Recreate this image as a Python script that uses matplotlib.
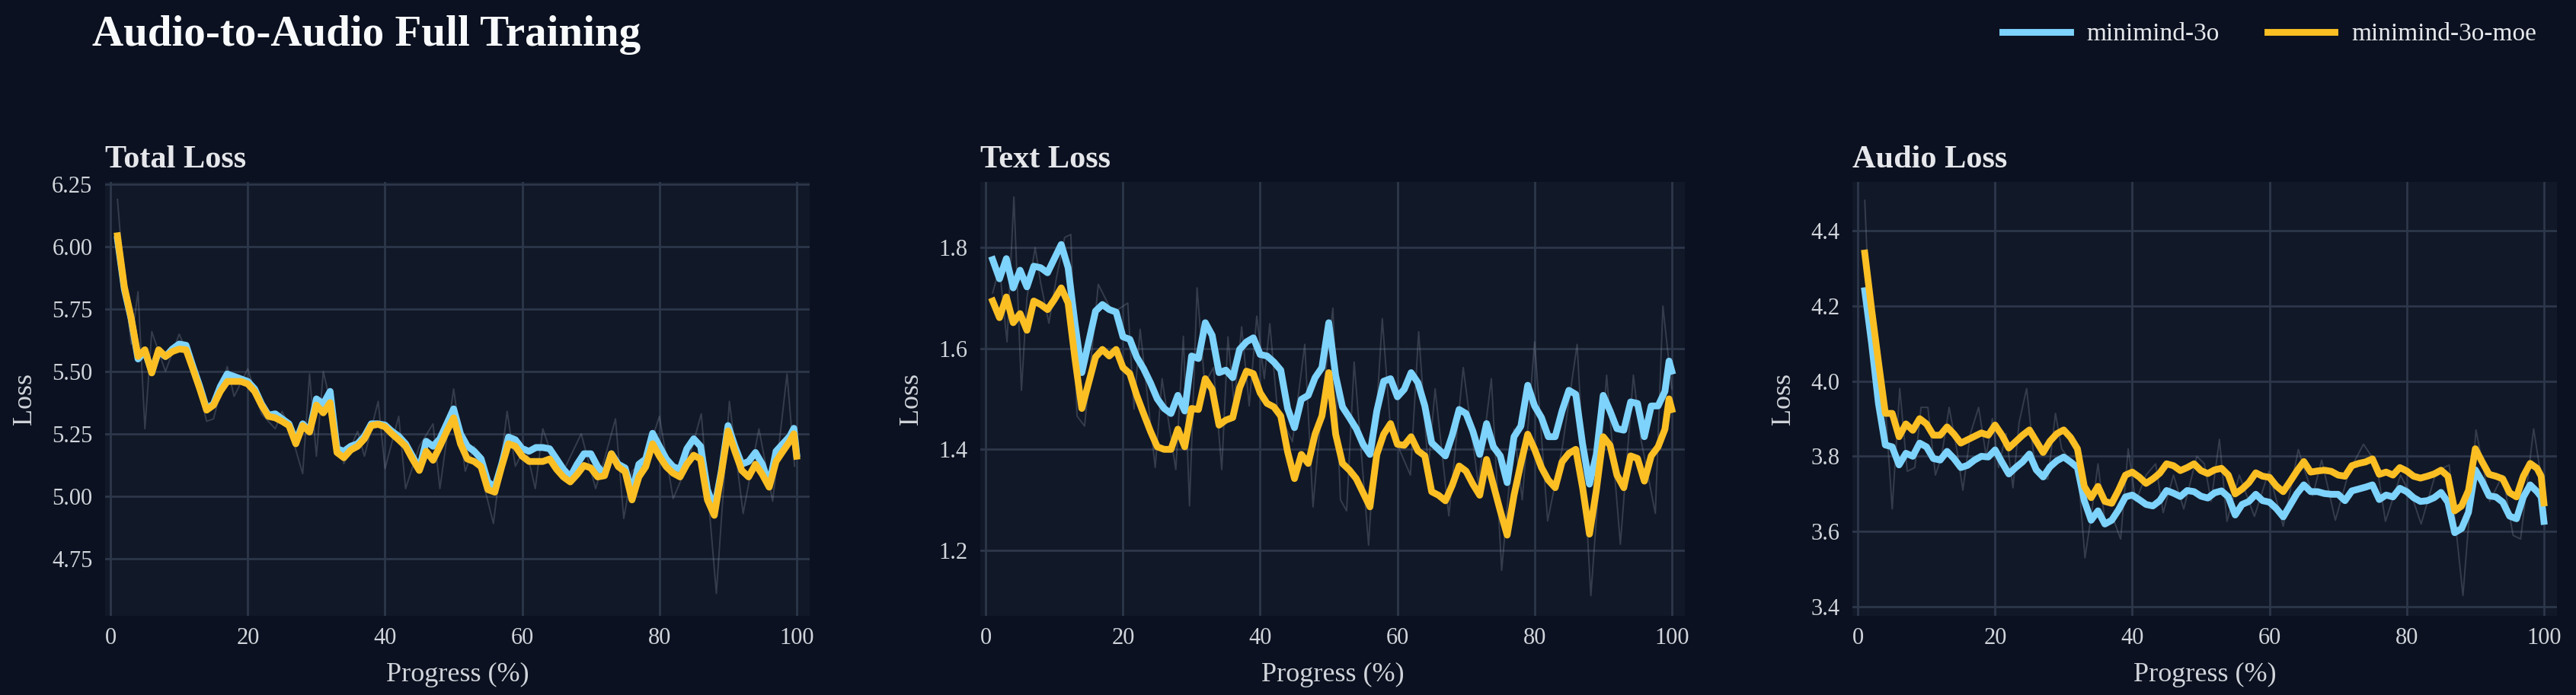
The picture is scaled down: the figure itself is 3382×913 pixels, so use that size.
import matplotlib
matplotlib.use("Agg")
import matplotlib.pyplot as plt
from matplotlib.lines import Line2D

# ---------------- data ----------------
steps = list(range(1, 100)) + [99.6, 100]

total_3o = [
    6.03, 5.83, 5.71, 5.55, 5.58, 5.50, 5.58, 5.56, 5.59, 5.61,
    5.605, 5.52, 5.44, 5.35, 5.37, 5.44, 5.49, 5.48, 5.47, 5.46,
    5.43, 5.37, 5.325, 5.33, 5.31, 5.29, 5.22, 5.29, 5.26, 5.39,
    5.37, 5.42, 5.19, 5.18, 5.20, 5.21, 5.24, 5.29, 5.29, 5.285,
    5.26, 5.24, 5.21, 5.16, 5.11, 5.22, 5.20, 5.23, 5.29, 5.35,
    5.25, 5.20, 5.18, 5.15, 5.057, 5.036, 5.128, 5.237, 5.226, 5.19,
    5.18, 5.195, 5.195, 5.19, 5.149, 5.108, 5.077, 5.128, 5.17, 5.17,
    5.118, 5.087, 5.17, 5.128, 5.113, 5.016, 5.128, 5.149, 5.252, 5.20,
    5.149, 5.118, 5.108, 5.19, 5.23, 5.20, 5.026, 4.95, 5.097, 5.283,
    5.20, 5.128, 5.139, 5.175, 5.128, 5.046, 5.18, 5.21, 5.24,
    5.272, 5.17]
total_moe = [
    6.044, 5.84, 5.715, 5.56, 5.587, 5.494, 5.587, 5.56, 5.58, 5.59,
    5.587, 5.51, 5.43, 5.345, 5.365, 5.42, 5.46, 5.46, 5.46, 5.45,
    5.42, 5.365, 5.32, 5.314, 5.30, 5.283, 5.21, 5.283, 5.257, 5.365,
    5.334, 5.375, 5.175, 5.154, 5.185, 5.20, 5.23, 5.283, 5.288, 5.278,
    5.25, 5.226, 5.20, 5.149, 5.103, 5.18, 5.144, 5.20, 5.26, 5.314,
    5.21, 5.149, 5.139, 5.118, 5.026, 5.016, 5.118, 5.21, 5.20, 5.16,
    5.139, 5.139, 5.139, 5.149, 5.108, 5.077, 5.057, 5.087, 5.123, 5.113,
    5.077, 5.082, 5.17, 5.118, 5.098, 4.985, 5.077, 5.118, 5.21, 5.16,
    5.118, 5.092, 5.077, 5.128, 5.164, 5.149, 4.985, 4.923, 5.087, 5.262,
    5.18, 5.103, 5.077, 5.128, 5.087, 5.036, 5.139, 5.18, 5.22,
    5.25, 5.16]

text_3o = [
    1.776, 1.738, 1.778, 1.72, 1.755, 1.722, 1.763, 1.76, 1.75, 1.778,
    1.806, 1.76, 1.65, 1.552, 1.613, 1.674, 1.687, 1.677, 1.672, 1.623,
    1.618, 1.583, 1.56, 1.532, 1.50, 1.481, 1.471, 1.507, 1.476, 1.585,
    1.58, 1.651, 1.626, 1.552, 1.557, 1.542, 1.598, 1.613, 1.621, 1.588,
    1.585, 1.573, 1.557, 1.481, 1.443, 1.499, 1.507, 1.542, 1.562, 1.651,
    1.546, 1.484, 1.463, 1.441, 1.41, 1.39, 1.476, 1.535, 1.54, 1.504,
    1.519, 1.552, 1.532, 1.486, 1.413, 1.40, 1.387, 1.428, 1.479, 1.471,
    1.436, 1.39, 1.451, 1.405, 1.387, 1.334, 1.425, 1.446, 1.527, 1.486,
    1.463, 1.425, 1.425, 1.476, 1.517, 1.509, 1.41, 1.331, 1.39, 1.507,
    1.476, 1.441, 1.438, 1.494, 1.491, 1.425, 1.486, 1.486, 1.515,
    1.575, 1.555]
text_moe = [
    1.694, 1.661, 1.702, 1.651, 1.669, 1.636, 1.694, 1.687, 1.677, 1.697,
    1.72, 1.69, 1.58, 1.481, 1.532, 1.583, 1.598, 1.585, 1.598, 1.562,
    1.55, 1.507, 1.471, 1.436, 1.405, 1.40, 1.40, 1.44, 1.405, 1.481,
    1.479, 1.54, 1.519, 1.448, 1.458, 1.463, 1.522, 1.555, 1.55, 1.512,
    1.491, 1.484, 1.466, 1.395, 1.342, 1.39, 1.372, 1.43, 1.466, 1.552,
    1.43, 1.372, 1.359, 1.342, 1.314, 1.286, 1.39, 1.43, 1.451, 1.41,
    1.408, 1.425, 1.397, 1.387, 1.316, 1.309, 1.298, 1.329, 1.367, 1.357,
    1.331, 1.309, 1.38, 1.329, 1.278, 1.23, 1.309, 1.372, 1.43, 1.40,
    1.364, 1.339, 1.324, 1.375, 1.392, 1.40, 1.324, 1.232, 1.319, 1.425,
    1.408, 1.349, 1.324, 1.387, 1.382, 1.337, 1.387, 1.405, 1.44,
    1.50, 1.479]

audio_3o = [
    4.24, 4.10, 3.94, 3.83, 3.825, 3.777, 3.808, 3.80, 3.835, 3.825,
    3.794, 3.79, 3.813, 3.794, 3.77, 3.776, 3.79, 3.80, 3.798, 3.817,
    3.784, 3.753, 3.77, 3.785, 3.806, 3.764, 3.745, 3.772, 3.788, 3.798,
    3.785, 3.77, 3.682, 3.63, 3.655, 3.62, 3.63, 3.658, 3.692, 3.697,
    3.685, 3.672, 3.668, 3.682, 3.709, 3.702, 3.693, 3.709, 3.706, 3.694,
    3.689, 3.703, 3.708, 3.692, 3.644, 3.672, 3.68, 3.699, 3.682, 3.678,
    3.661, 3.639, 3.67, 3.701, 3.724, 3.706, 3.706, 3.701, 3.699, 3.699,
    3.682, 3.708, 3.713, 3.718, 3.724, 3.685, 3.697, 3.692, 3.715, 3.706,
    3.69, 3.68, 3.682, 3.69, 3.704, 3.678, 3.597, 3.608, 3.651, 3.764,
    3.733, 3.695, 3.692, 3.678, 3.641, 3.634, 3.692, 3.724, 3.706,
    3.692, 3.627]
audio_moe = [
    4.34, 4.19, 4.05, 3.914, 3.914, 3.852, 3.886, 3.869, 3.90, 3.886,
    3.856, 3.856, 3.878, 3.859, 3.835, 3.844, 3.853, 3.862, 3.856, 3.883,
    3.856, 3.822, 3.839, 3.856, 3.87, 3.84, 3.81, 3.84, 3.86, 3.87,
    3.85, 3.82, 3.72, 3.69, 3.72, 3.68, 3.675, 3.71, 3.75, 3.758,
    3.745, 3.728, 3.74, 3.755, 3.78, 3.775, 3.762, 3.77, 3.78, 3.762,
    3.754, 3.764, 3.768, 3.75, 3.70, 3.713, 3.73, 3.756, 3.747, 3.744,
    3.721, 3.706, 3.733, 3.761, 3.786, 3.758, 3.761, 3.763, 3.76, 3.75,
    3.747, 3.775, 3.781, 3.785, 3.793, 3.752, 3.758, 3.75, 3.77, 3.761,
    3.747, 3.742, 3.747, 3.753, 3.763, 3.747, 3.655, 3.668, 3.709, 3.82,
    3.785, 3.752, 3.747, 3.74, 3.703, 3.692, 3.747, 3.781, 3.768,
    3.747, 3.676]

# faint raw (unsmoothed) traces
total_raw_x = [1, 2, 3, 4, 5, 6, 8, 10, 12, 14, 15, 17, 18, 20, 22, 24, 25, 26, 28, 29,
               30, 31, 32, 34, 36, 37, 39, 40, 42, 43, 45, 47, 48, 50, 51.7, 53, 55.8, 57.8, 59, 60.5,
               61.9, 63, 64.5, 66, 68.6, 70.7, 72, 73.6, 74.8, 76, 78, 80, 82, 84, 86.1, 88.3, 90.2, 92.2, 94.5, 96.5,
               98.6, 99.7]
total_raw_y = [6.19, 5.85, 5.61, 5.82, 5.27, 5.66, 5.50, 5.65, 5.52, 5.30, 5.31, 5.52, 5.40, 5.51, 5.33, 5.27, 5.34, 5.28, 5.09, 5.49,
               5.16, 5.50, 5.38, 5.13, 5.26, 5.16, 5.38, 5.11, 5.32, 5.03, 5.20, 5.29, 5.03, 5.43, 5.10, 5.20, 4.89, 5.34, 5.12, 5.20,
               5.03, 5.27, 5.15, 5.10, 5.25, 5.03, 5.15, 5.31, 4.91, 5.10, 5.15, 5.32, 4.99, 5.12, 5.33, 4.61, 5.38, 4.93, 5.27, 4.98,
               5.49, 5.12]

text_raw_x = [1, 2, 3.1, 4.1, 5.2, 6, 7.2, 8, 9.2, 10.3, 11.5, 12.4, 13.3, 14.4, 16.4, 18.5, 20.7, 21.6, 22.5, 24.7,
              25.7, 27.7, 28.8, 29.7, 30.8, 31.9, 33.2, 34.4, 35.3, 36.2, 37.3, 38.4, 39.5, 40.6, 41.4, 42.5, 44.7, 46.5, 47.7, 49,
              50.6, 51.7, 52.6, 53.7, 55.8, 57.8, 59, 61.9, 63.1, 64.5, 65.5, 67.5, 69.6, 71.8, 73.7, 75.2, 77, 78.2, 80, 81.9,
              84, 86.2, 88.2, 90.5, 92.5, 94.4, 95.5, 97.6, 98.7, 100]
text_raw_y = [1.71, 1.76, 1.613, 1.90, 1.517, 1.70, 1.80, 1.73, 1.65, 1.74,
              1.82, 1.826, 1.466, 1.446, 1.727, 1.67, 1.69, 1.48, 1.638, 1.364,
              1.54, 1.36, 1.624, 1.288, 1.72, 1.53, 1.562, 1.36, 1.623, 1.49,
              1.643, 1.486, 1.664, 1.54, 1.649, 1.48, 1.415, 1.608, 1.286, 1.49,
              1.68, 1.30, 1.278, 1.573, 1.21, 1.659, 1.44, 1.349, 1.633, 1.36,
              1.52, 1.268, 1.562, 1.33, 1.54, 1.16, 1.44, 1.30, 1.613, 1.258,
              1.40, 1.608, 1.11, 1.547, 1.212, 1.547, 1.42, 1.273, 1.684, 1.52]

audio_raw_x = [1, 2, 3, 4, 5, 6.1, 7.2, 8.3, 9.2, 10.2, 11.3, 12.2, 13.3, 14.4, 15.3, 16.4, 17.6, 18.7, 19.6, 20.5,
               21.6, 22.6, 23.5, 24.6, 25.7, 26.8, 27.7, 28.8, 29.7, 30.9, 32, 33.1, 34, 35, 36, 37.1, 38.3, 39.4, 40.5, 42,
               43.4, 44.5, 46, 47.5, 49.4, 50.5, 51.5, 52.7, 53.8, 55.6, 57.8, 59.9, 62, 64.2, 66.3, 67.6, 69.6, 71.6, 73.7, 75.6,
               76.9, 79.1, 81, 82.1, 84.3, 86.2, 88.2, 90.1, 92.1, 94, 95.5, 96.6, 98.5, 99.8]
audio_raw_y = [4.48, 4.05, 4.0, 3.93, 3.66, 3.98, 3.76, 3.77, 3.93, 3.93,
               3.75, 3.80, 3.93, 3.82, 3.71, 3.86, 3.93, 3.80, 3.90, 3.77,
               3.86, 3.716, 3.89, 3.98, 3.79, 3.74, 3.74, 3.914, 3.82, 3.79,
               3.78, 3.53, 3.64, 3.78, 3.627, 3.64, 3.58, 3.82, 3.68, 3.75,
               3.78, 3.65, 3.75, 3.66, 3.80, 3.78, 3.68, 3.845, 3.627, 3.75,
               3.64, 3.76, 3.614, 3.818, 3.695, 3.79, 3.63, 3.76, 3.832, 3.78,
               3.627, 3.75, 3.68, 3.62, 3.76, 3.777, 3.43, 3.87, 3.68, 3.75,
               3.59, 3.58, 3.873, 3.72]

panel_titles = ["Total Loss", "Text Loss", "Audio Loss"]
series_names = ["minimind-3o", "minimind-3o-moe"]
x_ticks = [0, 20, 40, 60, 80, 100]
y_ticks = [[4.75, 5.00, 5.25, 5.50, 5.75, 6.00, 6.25],
           [1.2, 1.4, 1.6, 1.8],
           [3.4, 3.6, 3.8, 4.0, 4.2, 4.4]]
y_fmt = ["{:.2f}", "{:.1f}", "{:.1f}"]
y_lims = [(4.52, 6.26), (1.07, 1.93), (3.376, 4.529)]

# ---------------- style ----------------
FIG_BG = "#0b1120"
AX_BG = "#111827"
GRID = "#2d374a"
TXT = "#e5e7eb"
TICK = "#d1d5db"
C_3O = "#7dd3fc"
C_MOE = "#fbbf24"
RAW = "#8a93a6"

plt.rcParams["font.family"] = ["Liberation Serif", "DejaVu Serif"]

W, H, DPI = 3382, 913, 200
fig = plt.figure(figsize=(W / DPI, H / DPI), dpi=DPI, facecolor=FIG_BG)

lefts = [138, 1287, 2432]
ax_w = 925
top_px, bot_px = 239, 809

data = [(total_3o, total_moe, total_raw_x, total_raw_y),
        (text_3o, text_moe, text_raw_x, text_raw_y),
        (audio_3o, audio_moe, audio_raw_x, audio_raw_y)]

for i, (s3o, smoe, rx, ry) in enumerate(data):
    ax = fig.add_axes([lefts[i] / W, 1 - bot_px / H, ax_w / W, (bot_px - top_px) / H])
    ax.set_facecolor(AX_BG)
    for sp in ax.spines.values():
        sp.set_visible(False)
    ax.grid(True, color=GRID, linewidth=1.0, alpha=1.0)
    ax.set_axisbelow(True)

    ax.plot(rx, ry, color=RAW, linewidth=0.7, alpha=0.3, zorder=2)
    ax.plot(steps, s3o, color=C_3O, linewidth=3.2, zorder=3, solid_joinstyle="round")
    ax.plot(steps, smoe, color=C_MOE, linewidth=3.2, zorder=4, solid_joinstyle="round")

    ax.set_xlim(-0.8, 101.9)
    ax.set_ylim(*y_lims[i])
    ax.set_xticks(x_ticks)
    ax.set_yticks(y_ticks[i])
    ax.set_yticklabels([y_fmt[i].format(v) for v in y_ticks[i]])
    ax.tick_params(axis="both", length=0, labelsize=11, labelcolor=TICK)
    ax.tick_params(axis="y", pad=6)
    ax.tick_params(axis="x", pad=5.5)
    ax.set_xlabel("Progress (%)", fontsize=13, color=TICK, labelpad=6)
    ax.set_ylabel("Loss", fontsize=13, color=TICK, labelpad=7)
    ax.set_title(panel_titles[i], loc="left", fontsize=15.2, fontweight="bold",
                 color=TXT, pad=7)

fig.text(121 / W, 1 - 60 / H, "Audio-to-Audio Full Training", fontsize=20.5,
         fontweight="bold", color="#f8fafc", ha="left", va="baseline")

handles = [Line2D([], [], color=C_3O, linewidth=3.2),
           Line2D([], [], color=C_MOE, linewidth=3.2)]
leg = fig.legend(handles, series_names, loc="center right",
                 bbox_to_anchor=(3330 / W, 1 - 45 / H), ncol=2, frameon=False,
                 fontsize=12, handlelength=2.65, handletextpad=0.65,
                 columnspacing=1.9, borderaxespad=0, borderpad=0)
for t in leg.get_texts():
    t.set_color(TXT)

fig.savefig("out.png", dpi=DPI, facecolor=FIG_BG)
